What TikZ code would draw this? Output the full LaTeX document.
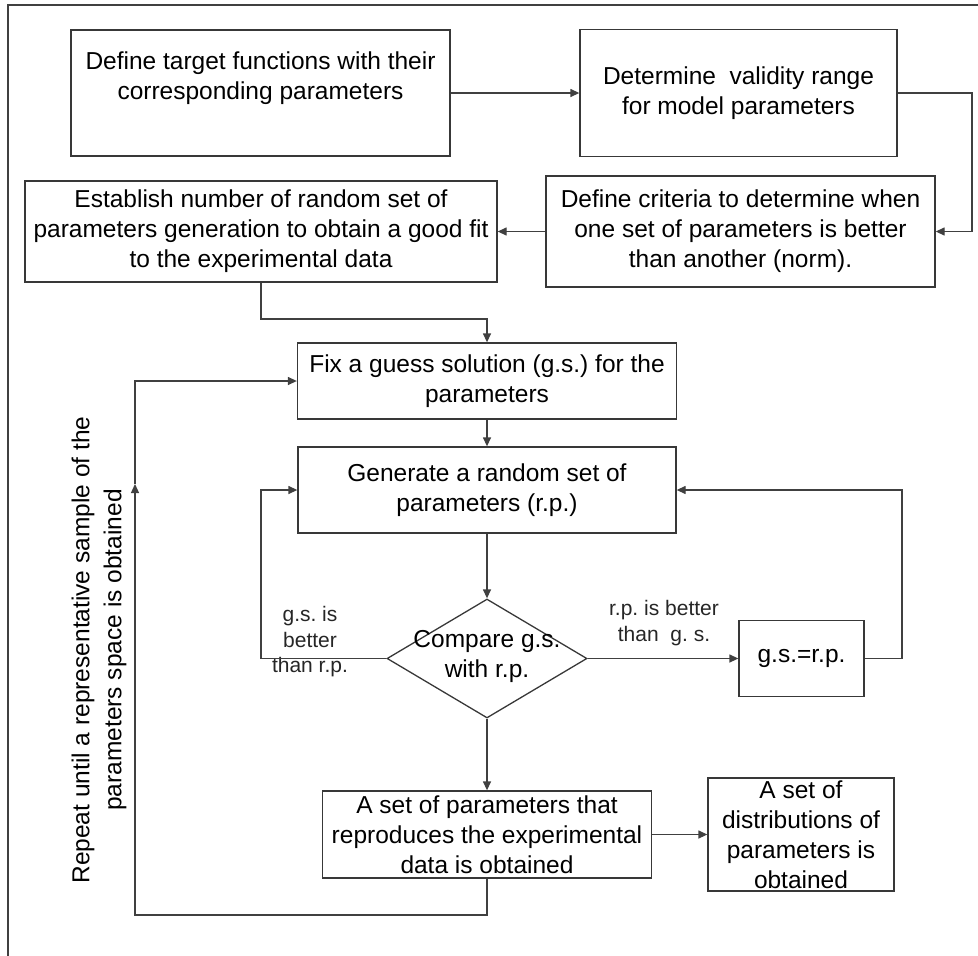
\documentclass[tikz,border=0pt]{standalone}
\usepackage{fontspec}
\setmainfont{Liberation Sans}
\usetikzlibrary{arrows.meta,shapes.geometric}
\tikzset{
  box/.style={draw=black!78, line width=1.3pt, fill=white, inner sep=0pt, align=center,
              font=\fontsize{24.5}{30}\selectfont},
  txt/.style={inner sep=0pt, align=center, font=\fontsize{24.5}{30}\selectfont},
  lbl/.style={inner sep=0pt, align=center, font=\fontsize{21}{25.5}\selectfont, text=black!85},
  conn/.style={draw=black!75, line width=1.3pt},
  arr/.style={conn, -{Triangle[length=9pt,width=8pt]}},
}
\begin{document}
\frenchspacing
\begin{tikzpicture}[x=1pt,y=-1pt]
\useasboundingbox (0,0) rectangle (978,956);
% outer frame (cropped at right and bottom)
\coordinate (fr) at (978,5);
\coordinate (fc) at (8,5);
\coordinate (fb) at (8,956);
\draw[draw=black!75, line width=1.6pt] (fr) -- (fc) -- (fb);

% boxes
\node[box, minimum width=379, minimum height=126] (b1) at (260.5,93) {};
\node[txt] (t1) at (260.5,78) {Define target functions with their\\corresponding parameters};
\node[box, minimum width=317, minimum height=127] (b2) at (738.5,93) {Determine\ \ validity range\\for model parameters};
\node[box, minimum width=389, minimum height=111] (b3) at (740.5,231.5) {Define criteria to determine when\\one set of parameters is better\\than another (norm).};
\node[box, minimum width=472, minimum height=101] (b4) at (261,231.5) {Establish number of random set of\\parameters generation to obtain a good fit\\to the experimental data};
\node[box, minimum width=379, minimum height=76] (b5) at (487,381) {Fix a guess solution (g.s.) for the\\parameters};
\node[box, minimum width=378, minimum height=86] (b6) at (487,490) {Generate a random set of\\parameters (r.p.)};
\node[draw=black!78, line width=1.3pt, shape=diamond, inner sep=0pt, minimum width=200, minimum height=119] (dia) at (487,658.5) {};
\node[txt] (tdia) at (487,656) {Compare g.s.\\with r.p.};
\node[box, minimum width=125, minimum height=76] (b7) at (801.5,658.5) {g.s.=r.p.};
\node[box, minimum width=329, minimum height=87] (b8) at (487,834.5) {A set of parameters that\\reproduces the experimental\\data is obtained};
\node[box, minimum width=186, minimum height=113] (b9) at (801,834.5) {A set of\\distributions of\\parameters is\\obtained};

% labels
\node[lbl] (l1) at (310,642) {g.s. is\\better\\than r.p.};
\node[lbl] (l2) at (664,623) {r.p. is better\\than\ \ g. s.};
\node[txt, rotate=90, font=\fontsize{24.5}{32}\selectfont] (rep) at (99,650) {Repeat until a representative sample of the\\parameters space is obtained};

% connectors
\draw[arr] (b1.east) -- (b1.east -| b2.west);
\coordinate (c1) at (972,93);
\draw[arr] (b2.east) -- (c1) |- (b3.east);
\draw[arr] (b3.west) -- (b4.west -| b4.east);
\coordinate (c2) at (261,319);
\draw[arr] (b4.south) -- (c2) -| (b5.north);
\draw[arr] (b5.south) -- (b6.north);
\draw[arr] (b6.south) -- (dia.north);
\coordinate (c3) at (261,658.5);
\draw[arr] (dia.west) -- (c3) |- (b6.west);
\draw[arr] (dia.east) -- (dia.east -| b7.west);
\coordinate (c4) at (902,658.5);
\draw[arr] (b7.east) -- (c4) |- (b6.east);
\draw[arr] (dia.south) -- (b8.north);
\draw[arr] (b8.east) -- (b9.west);
\coordinate (lb) at (135,915);
\coordinate (lm) at (135,484);
\coordinate (lt) at (135,381);
\draw[arr] (b8.south) |- (lb) -- (lm);
\draw[arr] (lm) -- (lt) -- (b5.west);
\end{tikzpicture}
\end{document}
